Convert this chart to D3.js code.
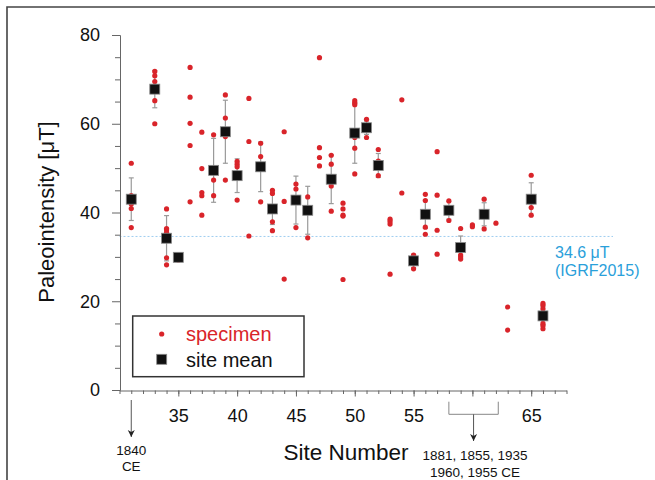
<!DOCTYPE html>
<html>
<head>
<meta charset="utf-8">
<script src="https://cdn.jsdelivr.net/npm/d3@7"></script>
<style>
html,body{margin:0;padding:0;background:#fff;}
svg{display:block;font-family:"Liberation Sans",Arial,sans-serif;}
</style>
</head>
<body>
<svg id="chart" width="655" height="480"></svg>
<script>
// ---- data ----
const specimenSites = [31,33,34,35,36,37,38,39,40,41,42,43,44,45,46,47,48,49,50,51,52,53,54,55,56,57,58,59,60,61,62,63,65,66];
const specimenValues = [
  [51.1,43.8,41.9,40.9,36.6],
  [71.8,70.8,69.5,65.2,60.0],
  [40.8,36.4,36.1,35.5,29.8,28.2],
  [29.3],
  [72.7,66.0,60.1,55.1,42.4],
  [58.1,49.9,44.5,43.8,39.4],
  [57.5,47.3,43.8],
  [66.5,61.3,57.1,47.3],
  [51.5,50.9,50.3,42.8],
  [65.7,56.0,34.7],
  [55.6,52.6,42.4],
  [45.0,44.3,37.9,35.9],
  [58.2,42.5,25.0],
  [46.4,45.3,36.6],
  [43.5,34.3],
  [74.9,54.6,52.4,50.5],
  [52.9,50.9,46.0,40.3],
  [42.1,40.8,39.4,39.2,24.9],
  [65.2,64.7,64.3,56.9,54.5,48.7],
  [61.0,56.9],
  [54.2,51.6,48.3],
  [38.5,38.0,37.4,26.1],
  [65.4,44.4],
  [30.4,27.3],
  [44.1,42.7,36.7,35.1],
  [53.7,43.9,36.0,30.6],
  [42.6,38.2],
  [36.4,30.4,30.0,29.5],
  [37.2,36.8],
  [43.0,36.3],
  [37.6],
  [18.7,13.5],
  [48.4,41.1,39.4],
  [19.5,19.1,18.3,15.0,14.5,13.8]
];
const meanSites  = [31,33,34,35,38,39,40,42,43,45,46,48,50,51,52,55,56,58,59,61,65,66];
const meanValues = [43.0,67.8,34.2,29.9,49.5,58.2,48.3,50.3,40.8,42.8,40.5,47.5,57.9,59.1,50.6,29.1,39.6,40.5,32.1,39.6,43.0,16.7];
const meanErrors = [4.8,4.2,5.1,0,7.2,7.1,3.8,5.6,3.5,5.4,5.4,5.5,6.8,1.5,2.7,1.5,3.2,2.0,2.6,2.6,3.7,2.0];
const yTickValues = [0,20,40,60,80];
const yMinorTicks = [5,10,15,25,30,35,45,50,55,65,70,75];
const xMajorTicks = [35,40,45,50,55,60,65];
const xMinorTicks = d3.range(30,69);
const igrfValue = 34.6;

// ---- scales ----
const svg = d3.select("#chart");
const x = d3.scaleLinear().domain([30,68]).range([119.5,566.5]);
const y = d3.scaleLinear().domain([0,80]).range([390,35]);

const RED = "#d9242a";
const BLUE = "#2aa0da";

// outer frame
svg.append("path").attr("d","M7,480 V7 H655").attr("fill","none").attr("stroke","#444").attr("stroke-width",1.6);

// IGRF reference line
svg.append("line")
  .attr("x1",x(30)).attr("x2",613)
  .attr("y1",y(igrfValue)).attr("y2",y(igrfValue))
  .attr("stroke","#9ecdf0").attr("stroke-width",1).attr("stroke-dasharray","2,2");
svg.append("text").attr("x",555).attr("y",258).attr("fill",BLUE).attr("font-size",16).text("34.6 \u03BCT");
svg.append("text").attr("x",555).attr("y",276).attr("fill",BLUE).attr("font-size",16).text("(IGRF2015)");

// axes
function styleAxis(g){
  g.select(".domain").attr("stroke","#666");
  g.selectAll(".tick line").attr("stroke","#666");
  g.selectAll(".tick text").attr("fill","#111").attr("font-family","Liberation Sans, Arial, sans-serif");
}
const yMinor = svg.append("g").attr("transform","translate(120,0)")
  .call(d3.axisLeft(y).tickValues(yMinorTicks).tickSize(5).tickSizeOuter(0).tickFormat(""));
styleAxis(yMinor);
const yAxis = svg.append("g").attr("transform","translate(120,0)")
  .call(d3.axisLeft(y).tickValues(yTickValues).tickSize(8).tickSizeOuter(0).tickPadding(12));
styleAxis(yAxis);
yAxis.selectAll(".tick text").attr("font-size",18);

const xMinor = svg.append("g").attr("transform","translate(0,390.5)")
  .call(d3.axisBottom(x).tickValues(xMinorTicks).tickSize(3.5).tickSizeOuter(0).tickFormat(""));
styleAxis(xMinor);
const xAxis = svg.append("g").attr("transform","translate(0,390.5)")
  .call(d3.axisBottom(x).tickValues(xMajorTicks).tickSize(6).tickSizeOuter(0).tickPadding(13)
    .tickFormat(d => d === 60 ? "" : d));
styleAxis(xAxis);
xAxis.select(".domain").remove();
xAxis.selectAll(".tick text").attr("font-size",18);

// axis titles
svg.append("text").attr("transform","translate(54,212) rotate(-90)")
  .attr("text-anchor","middle").attr("font-size",22).attr("fill","#111").text("Paleointensity [\u03BCT]");
svg.append("text").attr("x",346).attr("y",460).attr("text-anchor","middle")
  .attr("font-size",22.5).attr("fill","#111").text("Site Number");

// annotations
const defs = svg.append("defs");
defs.append("marker").attr("id","arr").attr("viewBox","0 0 10 10").attr("refX",10).attr("refY",5)
  .attr("markerWidth",7).attr("markerHeight",10).attr("markerUnits","userSpaceOnUse").attr("orient","auto")
  .append("path").attr("d","M0,0 L10,5 L0,10 L3,5 Z").attr("fill","#222");
svg.append("line").attr("x1",x(31)).attr("x2",x(31)).attr("y1",400).attr("y2",437)
  .attr("stroke","#555").attr("stroke-width",1).attr("marker-end","url(#arr)");
svg.append("text").attr("x",x(31)).attr("y",455).attr("text-anchor","middle").attr("font-size",13.5).attr("fill","#111").text("1840");
svg.append("text").attr("x",x(31)).attr("y",471).attr("text-anchor","middle").attr("font-size",13.5).attr("fill","#111").text("CE");

svg.append("path")
  .attr("d",`M${x(58)},401.7 V414.3 H${x(62.2)} V401.7`)
  .attr("fill","none").attr("stroke","#888").attr("stroke-width",1);
svg.append("line").attr("x1",x(60.1)).attr("x2",x(60.1)).attr("y1",414.3).attr("y2",441)
  .attr("stroke","#555").attr("stroke-width",1).attr("marker-end","url(#arr)");
svg.append("text").attr("x",475).attr("y",460).attr("text-anchor","middle").attr("font-size",13.5).attr("fill","#111").text("1881, 1855, 1935");
svg.append("text").attr("x",475).attr("y",477).attr("text-anchor","middle").attr("font-size",13.5).attr("fill","#111").text("1960, 1955 CE");

// error bars
const means = meanSites.map((s,i)=>({site:s, v:meanValues[i], e:meanErrors[i]}));
const eb = svg.append("g").attr("stroke","#9a9a9a").attr("stroke-width",1.2);
means.filter(d=>d.e>0).forEach(d=>{
  eb.append("line").attr("x1",x(d.site)).attr("x2",x(d.site)).attr("y1",y(d.v-d.e)).attr("y2",y(d.v+d.e));
  [d.v-d.e,d.v+d.e].forEach(v=>{
    eb.append("line").attr("x1",x(d.site)-2.5).attr("x2",x(d.site)+2.5).attr("y1",y(v)).attr("y2",y(v));
  });
});

// specimen points
const specimens = [];
specimenSites.forEach((s,i)=>specimenValues[i].forEach(v=>specimens.push({site:s,v:v})));
svg.append("g").selectAll("circle").data(specimens).join("circle")
  .attr("cx",d=>x(d.site)).attr("cy",d=>y(d.v)).attr("r",2.6).attr("fill",RED);

// site means
svg.append("g").selectAll("rect").data(means).join("rect")
  .attr("x",d=>x(d.site)-5).attr("y",d=>y(d.v)-5).attr("width",10).attr("height",10)
  .attr("fill","#111").attr("stroke","#8a8a8a").attr("stroke-width",0.8);

// legend
const lg = svg.append("g");
lg.append("rect").attr("x",132.7).attr("y",316).attr("width",171.3).attr("height",60.7)
  .attr("fill","#fff").attr("stroke","#333").attr("stroke-width",1.5);
lg.append("circle").attr("cx",161.7).attr("cy",334).attr("r",2.6).attr("fill",RED);
lg.append("text").attr("x",186).attr("y",341).attr("font-size",20).attr("fill",RED).text("specimen");
lg.append("rect").attr("x",156.7).attr("y",354.3).attr("width",10).attr("height",10)
  .attr("fill","#111").attr("stroke","#8a8a8a").attr("stroke-width",0.8);
lg.append("text").attr("x",186).attr("y",366.5).attr("font-size",20).attr("fill","#111").text("site mean");
</script>
</body>
</html>
